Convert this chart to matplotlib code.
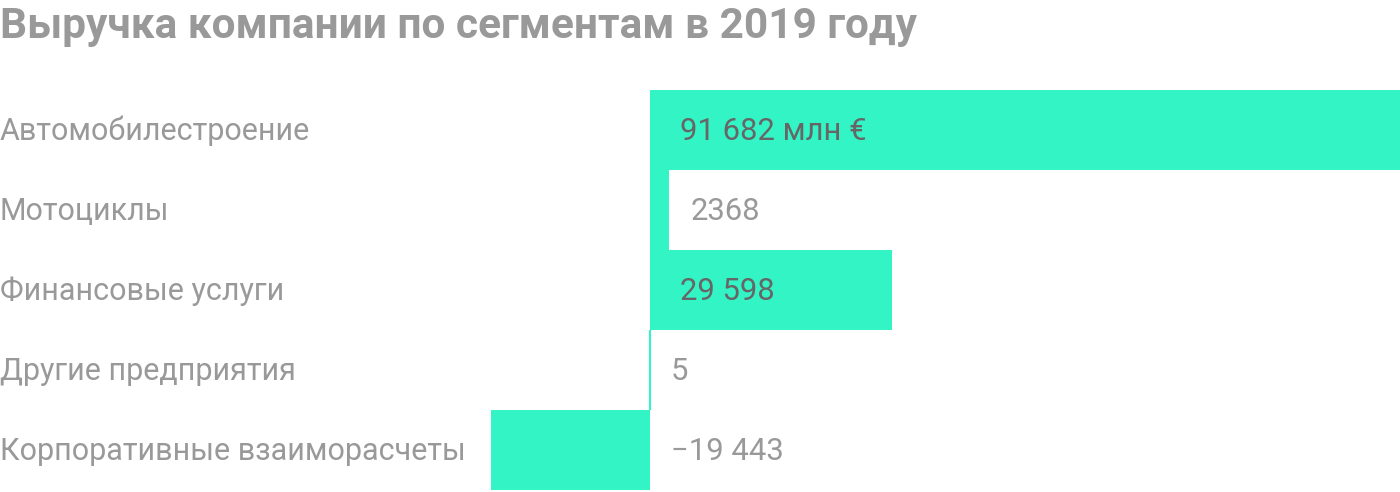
import matplotlib
matplotlib.use("Agg")
import matplotlib.pyplot as plt
from matplotlib.transforms import offset_copy

categories = ["Автомобилестроение", "Мотоциклы", "Финансовые услуги",
              "Другие предприятия", "Корпоративные взаиморасчеты"]
values = [91682, 2368, 29598, 5, -19443]
value_labels = ["91 682 млн €", "2368", "29 598", "5", "−19 443"]
inside = [True, False, True, False, False]

title = "Выручка компании по сегментам в 2019 году"

BAR = "#33f4c5"
GREY = "#999999"
DARK = "#666666"
FONT = "Roboto"

W, H = 1400, 492
fig = plt.figure(figsize=(W / 100, H / 100), dpi=100)
ax = fig.add_axes([0, 2 / H, 1, 400 / H])

vmax = max(values)
left = -650 * vmax / 750
ax.set_xlim(left, vmax)
ax.set_ylim(len(categories) - 0.5, -0.5)
ax.axis("off")

ypos = list(range(len(categories)))
ax.barh(ypos, values, height=1.0, color=BAR, linewidth=0)
# tiny value still visible as a thin line
ax.plot([0, 0], [2.5, 3.5], color=BAR, lw=1.5, solid_capstyle="butt")

for y, cat in zip(ypos, categories):
    tr = offset_copy(ax.get_yaxis_transform(), fig=fig, x=0, y=-10, units="dots")
    ax.text(0, y, cat, transform=tr, ha="left",
            va="baseline", fontsize=22, color=GREY, family=FONT)

for y, v, lab, ins in zip(ypos, values, value_labels, inside):
    if ins:
        x0, dx, col = 0, 30, DARK
    else:
        x0, dx, col = max(v, 0), 21, GREY
    tr = offset_copy(ax.transData, fig=fig, x=dx, y=-10, units="dots")
    ax.text(x0, y, lab, transform=tr, ha="left", va="baseline",
            fontsize=22.3, color=col, family=FONT)

fig.text(0, 1 - 38 / H, title, ha="left", va="baseline", fontsize=30.5,
         fontweight="bold", color=GREY, family="Roboto")

fig.savefig("out.png", dpi=100)
